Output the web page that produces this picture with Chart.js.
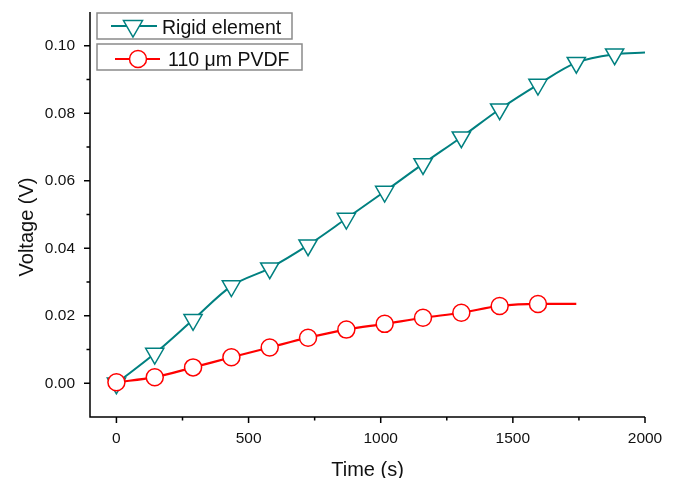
<!DOCTYPE html>
<html lang="en">
<head>
<meta charset="UTF-8">
<title>Voltage vs Time</title>
<script src="https://cdn.jsdelivr.net/npm/chart.js"></script>
<style>
  body, html { margin: 0; padding: 0; background: #fff; overflow: hidden; }
  #wrap { width: 688px; height: 478px; }
</style>
</head>
<body>
<div id="wrap"><canvas id="voltChart"></canvas></div>
<script>
// values (last point of each series has no marker)
const rigidTime = [0, 145, 290, 435, 580, 725, 870, 1015, 1160, 1305, 1450, 1595, 1740, 1885, 2000];
const rigidVolt = [0, 0.0088, 0.0188, 0.0288, 0.0341, 0.0409, 0.0488, 0.0568, 0.0650, 0.0729, 0.0812, 0.0885, 0.0950, 0.0975, 0.0980];
const pvdfTime = [0, 145, 290, 435, 580, 725, 870, 1015, 1160, 1305, 1450, 1595, 1740];
const pvdfVolt = [0.0003, 0.0018, 0.0047, 0.0077, 0.0106, 0.0135, 0.0159, 0.0176, 0.0194, 0.0209, 0.0229, 0.0235, 0.0235];

const xMajor = [0, 500, 1000, 1500, 2000];
const xMinor = [250, 750, 1250, 1750];
const yMajor = [0, 0.02, 0.04, 0.06, 0.08, 0.10];
const yMinor = [0.01, 0.03, 0.05, 0.07, 0.09];

const seriesNames = ['Rigid element', '110 \u03bcm PVDF'];
const FONT = '"Liberation Sans", Arial, sans-serif';
const TEAL = '#008080';
const RED = '#ff0000';

const toPoints = (xs, ys) => xs.map((t, i) => ({ x: t, y: ys[i] }));
// marker on every point except the trailing one
const markerRadius = (n, r) => Array.from({ length: n }, (_, i) => (i === n - 1 ? 0 : r));

function downTriangle(ctx, cx, cy, r) {
    const s = r * Math.sin(Math.PI / 3);
    ctx.beginPath();
    ctx.moveTo(cx, cy + r);
    ctx.lineTo(cx - s, cy - r / 2);
    ctx.lineTo(cx + s, cy - r / 2);
    ctx.closePath();
}

// axis lines, Origin-style tick marks, axis titles and the boxed legend
const originDecor = {
    id: 'originDecor',
    afterDraw(chart) {
        const { ctx, chartArea: a, scales: { x, y } } = chart;
        ctx.save();
        ctx.strokeStyle = '#000';
        ctx.lineWidth = 1.5;
        ctx.beginPath();
        ctx.moveTo(a.left, a.top);
        ctx.lineTo(a.left, a.bottom);
        ctx.lineTo(a.right, a.bottom);
        xMajor.forEach(v => { const p = x.getPixelForValue(v); ctx.moveTo(p, a.bottom); ctx.lineTo(p, a.bottom + 6); });
        xMinor.forEach(v => { const p = x.getPixelForValue(v); ctx.moveTo(p, a.bottom); ctx.lineTo(p, a.bottom + 3.5); });
        yMajor.forEach(v => { const p = y.getPixelForValue(v); ctx.moveTo(a.left, p); ctx.lineTo(a.left - 6, p); });
        yMinor.forEach(v => { const p = y.getPixelForValue(v); ctx.moveTo(a.left, p); ctx.lineTo(a.left - 3.5, p); });
        ctx.stroke();

        ctx.fillStyle = '#111';
        ctx.font = '20px ' + FONT;
        ctx.textAlign = 'center';
        ctx.textBaseline = 'alphabetic';
        ctx.fillText('Time (s)', (a.left + a.right) / 2, 476);
        ctx.translate(33, 227);
        ctx.rotate(-Math.PI / 2);
        ctx.fillText('Voltage (V)', 0, 0);
        ctx.restore();

        // legend
        ctx.save();
        ctx.strokeStyle = '#8a8a8a';
        ctx.lineWidth = 1.5;
        ctx.fillStyle = '#fff';
        ctx.fillRect(97, 13, 195, 26);
        ctx.strokeRect(97, 13, 195, 26);
        ctx.fillRect(97, 44, 205, 26);
        ctx.strokeRect(97, 44, 205, 26);

        ctx.lineWidth = 2;
        ctx.strokeStyle = TEAL;
        ctx.beginPath(); ctx.moveTo(111, 26); ctx.lineTo(157, 26); ctx.stroke();
        ctx.lineWidth = 1.5;
        downTriangle(ctx, 133, 26, 11);
        ctx.fill(); ctx.stroke();

        ctx.lineWidth = 2;
        ctx.strokeStyle = RED;
        ctx.beginPath(); ctx.moveTo(115, 59); ctx.lineTo(160, 59); ctx.stroke();
        ctx.lineWidth = 1.5;
        ctx.beginPath(); ctx.arc(138, 59, 8.5, 0, Math.PI * 2);
        ctx.fill(); ctx.stroke();

        ctx.fillStyle = '#111';
        ctx.font = '19.5px ' + FONT;
        ctx.textAlign = 'left';
        ctx.textBaseline = 'alphabetic';
        ctx.fillText(seriesNames[0], 162, 34);
        ctx.fillText(seriesNames[1], 168, 66);
        ctx.restore();
    }
};

new Chart(document.getElementById('voltChart'), {
    type: 'line',
    data: {
        datasets: [{
            label: seriesNames[0],
            data: toPoints(rigidTime, rigidVolt),
            borderColor: TEAL,
            borderWidth: 2,
            backgroundColor: '#fff',
            pointStyle: 'triangle',
            rotation: 180,
            pointRadius: markerRadius(rigidTime.length, 10.5),
            pointBorderWidth: 1.5,
            pointBorderColor: TEAL,
            pointBackgroundColor: '#fff',
            cubicInterpolationMode: 'monotone',
            order: 1
        }, {
            label: seriesNames[1],
            data: toPoints(pvdfTime, pvdfVolt),
            borderColor: RED,
            borderWidth: 2.2,
            backgroundColor: '#fff',
            pointStyle: 'circle',
            pointRadius: markerRadius(pvdfTime.length, 8.5),
            pointBorderWidth: 1.5,
            pointBorderColor: RED,
            pointBackgroundColor: '#fff',
            cubicInterpolationMode: 'monotone',
            order: 0
        }]
    },
    options: {
        responsive: true,
        maintainAspectRatio: false,
        animation: false,
        layout: { padding: { top: 9, right: 43, left: 0, bottom: 0 } },
        plugins: { legend: { display: false }, tooltip: { enabled: false } },
        scales: {
            x: {
                type: 'linear',
                min: -100,
                max: 2000,
                grid: { display: false, drawTicks: false },
                border: { display: false },
                afterBuildTicks: s => { s.ticks = xMajor.map(v => ({ value: v })); },
                afterFit: s => { s.height = 61; s.paddingLeft = 0; s.paddingRight = 0; },
                ticks: {
                    padding: 12,
                    color: '#111',
                    font: { family: FONT, size: 15.5 },
                    maxRotation: 0,
                    callback: v => String(v)
                }
            },
            y: {
                type: 'linear',
                min: -0.01,
                max: 0.11,
                grid: { display: false, drawTicks: false },
                border: { display: false },
                afterBuildTicks: s => { s.ticks = yMajor.map(v => ({ value: v })); },
                afterFit: s => { s.width = 90; s.paddingTop = 0; s.paddingBottom = 0; },
                ticks: {
                    padding: 15,
                    color: '#111',
                    font: { family: FONT, size: 15.5 },
                    callback: v => v.toFixed(2)
                }
            }
        }
    },
    plugins: [originDecor]
});
</script>
</body>
</html>
